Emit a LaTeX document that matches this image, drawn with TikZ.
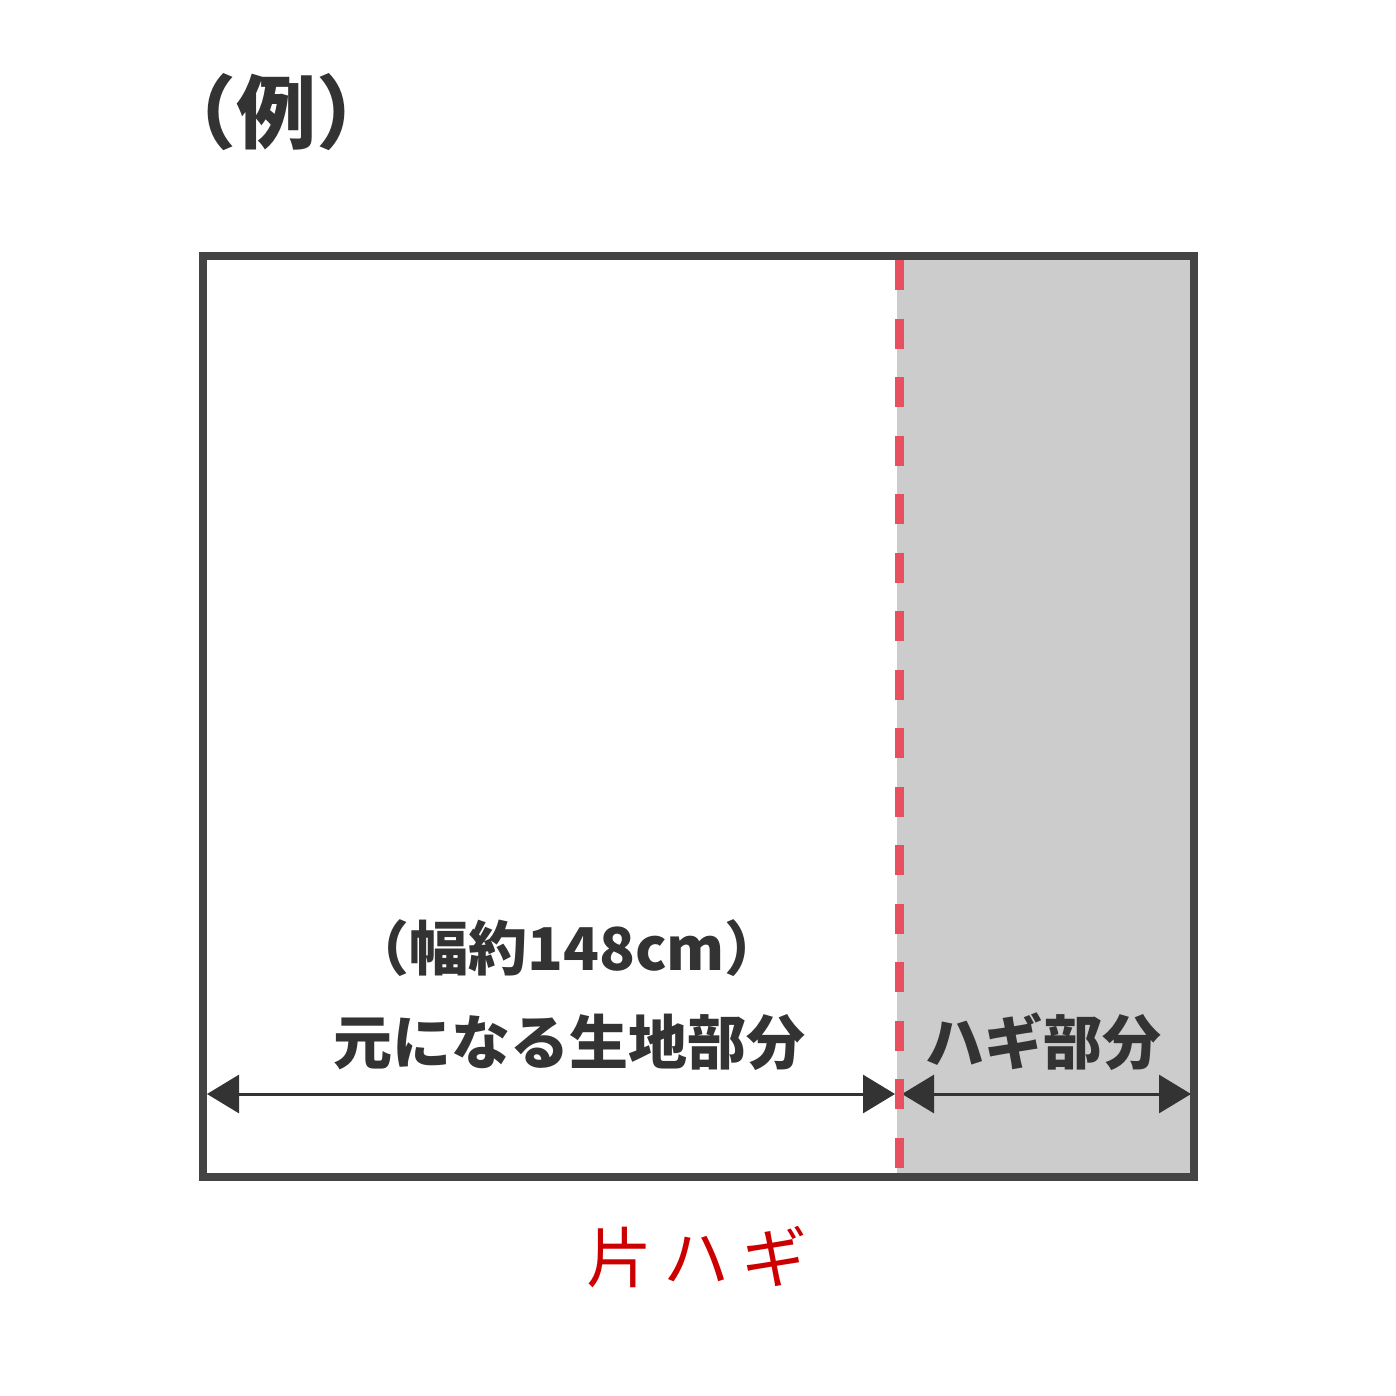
\documentclass[tikz,border=0pt]{standalone}
\usepackage{fontspec}
\setmainfont{Noto Sans CJK JP}
\usetikzlibrary{arrows.meta}
\definecolor{framegray}{HTML}{444444}
\definecolor{textgray}{HTML}{333333}
\definecolor{hagigray}{HTML}{CCCCCC}
\definecolor{seamred}{HTML}{E8505F}
\definecolor{titlered}{HTML}{CC0000}
\tikzset{
  dimline/.style={draw=textgray, line width=3pt,
    {Triangle[length=32pt,width=38pt]}-{Triangle[length=32pt,width=38pt]}},
  partlabel/.style={text=textgray, inner sep=0pt,
    font=\fontsize{59}{70}\selectfont\bfseries},
}

\begin{document}
\begin{tikzpicture}[x=1pt,y=-1pt]
  \useasboundingbox (0,0) rectangle (1396,1396);
  % corners of the cloth
  \coordinate (nw) at (203,256);
  \coordinate (se) at (1194,1177);
  \coordinate (seamtop) at (899,260);
  \coordinate (seambot) at (899,1173);

  % hagi part
  \fill[hagigray] (897,260) rectangle (1190,1173);
  \draw[framegray, line width=8pt] (nw) rectangle (se);

  % widths
  \coordinate (leftend) at (207,1094);
  \coordinate (seamL) at (895,1094);
  \coordinate (seamR) at (902,1094);
  \coordinate (rightend) at (1191,1094);
  \draw[dimline] (leftend) -- (seamL);
  \draw[dimline] (seamR) -- (rightend);
  \draw[seamred, line width=9pt, dash pattern=on 30pt off 28.5pt] (seamtop) -- (seambot);

  \node[partlabel, font=\fontsize{80}{90}\selectfont\bfseries] (example) at (276,112) {（例）};
  \node[partlabel] (width) at (567,948) {（幅約148cm）};
  \node[partlabel] (base) at (569,1042) {元になる生地部分};
  \node[partlabel] (hagi) at (1043,1042) {ハギ部分};
  \node[text=titlered, inner sep=0pt, font=\fontsize{66}{74}\selectfont] (title) at (697,1257)
    {片\hspace{12pt}ハ\hspace{12pt}ギ};
\end{tikzpicture}
\end{document}
